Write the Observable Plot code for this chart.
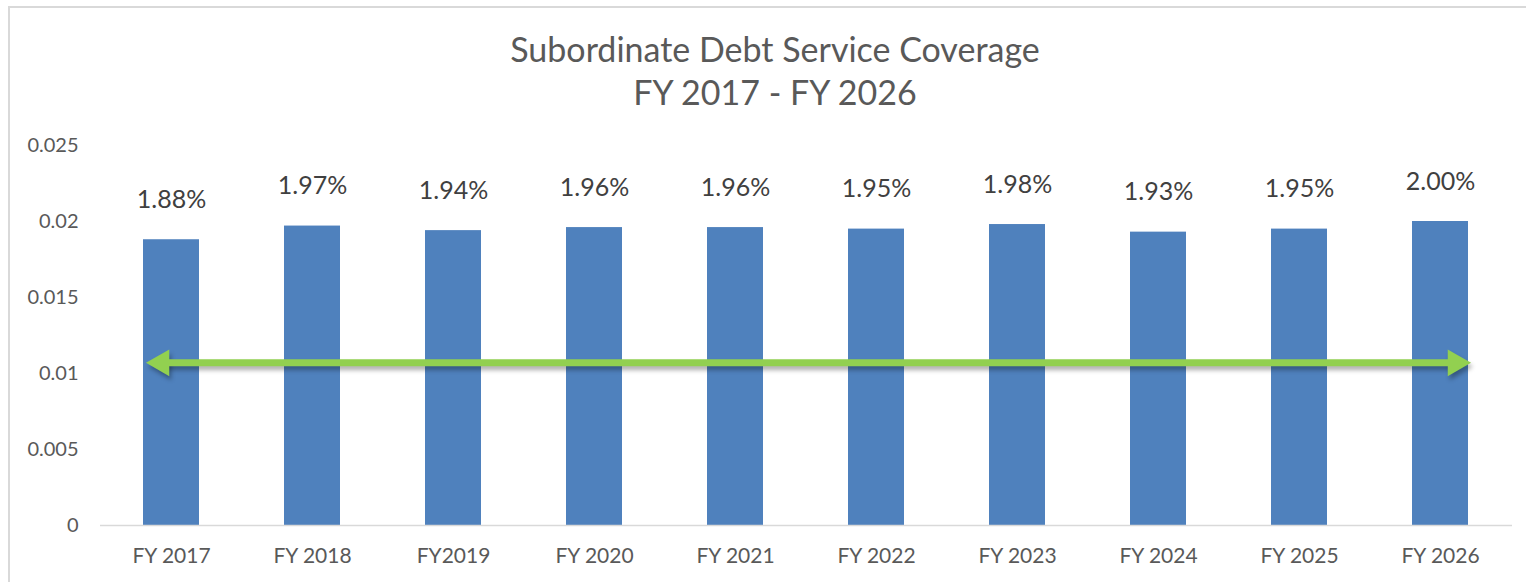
<!DOCTYPE html>
<html><head><meta charset="utf-8">
<script src="https://cdn.jsdelivr.net/npm/d3@7"></script>
<script src="https://cdn.jsdelivr.net/npm/@observablehq/plot@0.6"></script>
<style>
body{margin:0;background:#fff;font-family:Lato,sans-serif;}
#wrap{position:relative;width:1526px;height:582px;overflow:hidden;background:#fff;}
#frame{position:absolute;left:8px;top:6px;width:1540px;height:620px;border:2px solid #d9d9d9;box-sizing:border-box;}
#title{position:absolute;left:0;width:1550px;top:27px;text-align:center;font-size:34px;line-height:43px;color:#595959;font-family:Lato,sans-serif;}
#chart{position:absolute;left:0;top:0;}
.shadow{filter:blur(2px);}
</style></head>
<body>
<div id="wrap">
  <div id="frame"></div>
  <div id="title">Subordinate Debt Service Coverage<br>FY 2017 - FY 2026</div>
  <div id="chart"></div>
</div>
<script>
const categories = ["FY 2017","FY 2018","FY2019","FY 2020","FY 2021","FY 2022","FY 2023","FY 2024","FY 2025","FY 2026"];
const values = [0.0188,0.0197,0.0194,0.0196,0.0196,0.0195,0.0198,0.0193,0.0195,0.0200];
const targetLine = 0.0107;
const yTicks = [0,0.005,0.01,0.015,0.02,0.025];

const data = categories.map((c,i)=>({year:c, value:values[i]}));
const lineData = [{a:categories[0], b:categories[categories.length-1], y:targetLine}];
const green = "#92D050";

const chart = Plot.plot({
  width:1526, height:582,
  marginLeft:100, marginRight:14, marginTop:145, marginBottom:57,
  style:{fontFamily:"Lato, sans-serif", background:"transparent", overflow:"visible"},
  x:{domain:categories, paddingInner:0.6, paddingOuter:0.3, label:null},
  y:{domain:[0,0.025], label:null},
  marks:[
    Plot.barY(data,{x:"year", y:"value", fill:"#4F81BD"}),
    Plot.ruleY([0],{stroke:"#d9d9d9", strokeWidth:1.5}),
    Plot.axisY({ticks:yTicks, tickFormat:d=>String(d), tickSize:0, tickPadding:22, fontSize:20, color:"#595959"}),
    Plot.axisX({tickSize:0, tickPadding:23, fontSize:21, color:"#595959"}),
    // shadow
    Plot.arrow(lineData,{x1:"a", x2:"b", y1:"y", y2:"y", headLength:0, insetStart:-12, insetEnd:-14, stroke:"#000", strokeOpacity:0.3, strokeWidth:7, dy:4, dx:2, strokeLinecap:"butt", className:"shadow"}),
    Plot.dot(lineData,{x:"a", y:"y", symbol:"triangle", r:10, rotate:-90, dx:-8, dy:4, fill:"#000", fillOpacity:0.3, stroke:"none", className:"shadow"}),
    Plot.dot(lineData,{x:"b", y:"y", symbol:"triangle", r:10, rotate:90, dx:17, dy:4, fill:"#000", fillOpacity:0.3, stroke:"none", className:"shadow"}),
    Plot.arrow(lineData,{x1:"a", x2:"b", y1:"y", y2:"y", headLength:0, insetStart:-15, insetEnd:-10, stroke:green, strokeWidth:7, strokeLinecap:"butt"}),
    Plot.dot(lineData,{x:"a", y:"y", symbol:"triangle", r:10, rotate:-90, dx:-10, fill:green, stroke:"none"}),
    Plot.dot(lineData,{x:"b", y:"y", symbol:"triangle", r:10, rotate:90, dx:15, fill:green, stroke:"none"}),
    Plot.text(data,{x:"year", y:"value", text:d=>(d.value*100).toFixed(2)+"%", dy:-40, fontSize:25, fill:"#404040"})
  ]
});
document.getElementById("chart").appendChild(chart);
</script>
</body></html>
